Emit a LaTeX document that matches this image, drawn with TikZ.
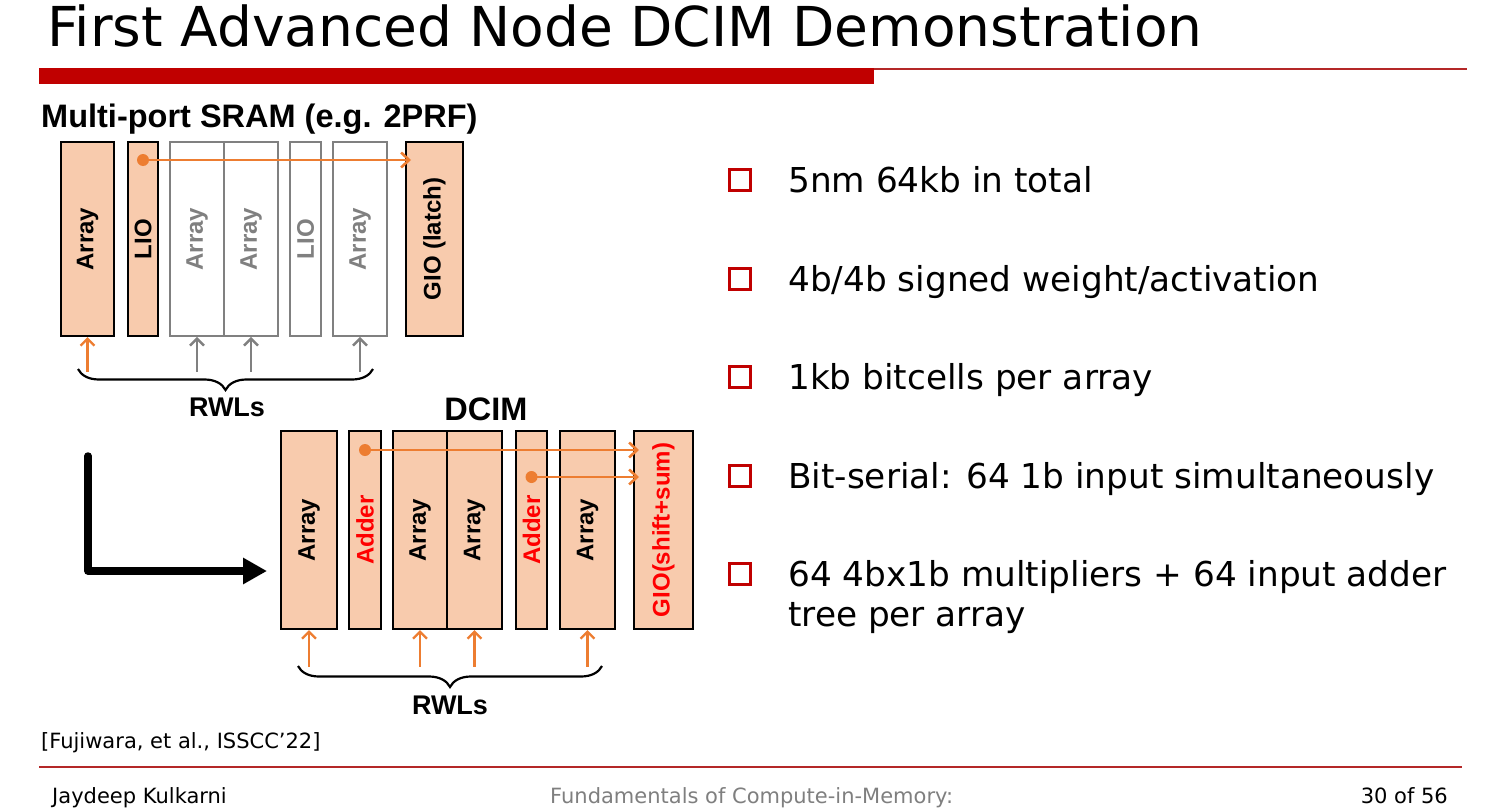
\documentclass[tikz,border=0pt]{standalone}
\usepackage{fontspec}
\setmainfont{DejaVu Sans}
\newfontfamily\arialfont{Liberation Sans}
\usetikzlibrary{arrows.meta,decorations.pathreplacing}

\definecolor{peach}{HTML}{F8CBAD}
\definecolor{wireorange}{HTML}{ED7D31}
\definecolor{slidered}{HTML}{C00000}
\definecolor{rulered}{HTML}{B42828}
\definecolor{ghostgray}{HTML}{808080}
\definecolor{footgray}{HTML}{7F7F7F}
\definecolor{addred}{HTML}{FF0000}

\newcommand{\fsz}[1]{\fontsize{#1}{#1}\selectfont}

\begin{document}
\begin{tikzpicture}[
    x=1pt, y=-1pt,
    blk/.style={draw=black, line width=2pt, fill=peach, inner sep=0pt,
        font=\arialfont\bfseries\fsz{24}},
    blkA/.style={blk, minimum height=194pt},
    blkB/.style={blk, minimum height=198pt},
    ghost/.style={blkA, draw=ghostgray, line width=1.8pt, fill=white, text=ghostgray},
    hdr/.style={font=\arialfont\bfseries\fsz{32.5}, inner sep=0pt},
    rwllabel/.style={font=\arialfont\bfseries\fsz{27}, inner sep=0pt},
    wire/.style={wireorange, line width=2.6pt, -{Straight Barb[length=8pt,width=15pt]}},
    rwl/.style={wireorange, line width=2.4pt, {Straight Barb[length=7pt,width=14pt]}-},
    brc/.style={draw=black, line width=2.2pt, decorate, decoration={brace, amplitude=21pt}},
    bsq/.style={draw=slidered, line width=3pt, minimum size=21pt, inner sep=0pt},
    btxt/.style={font=\fsz{34.3}, inner sep=0pt},
    foot/.style={font=\fsz{21}, inner sep=0pt},
]
    \useasboundingbox (0,0) rectangle (1489,811);

    % Title and rules
    \node[anchor=base west, inner sep=0pt, font=\fsz{55}] (title) at (47,46) {First Advanced Node DCIM Demonstration};
    \fill[slidered] (39,68) rectangle (874,84);
    \draw[rulered, line width=1.5pt] (874,68.75) -- (1467,68.75);
    \draw[rulered, line width=1.5pt] (39,767) -- (1462,767);

    % Multi-port SRAM
    \node[hdr, anchor=base west] (sramT) at (41,127) {Multi-port SRAM (e.g. 2PRF)};
    \node[blkA, minimum width=53pt] (arrA1) at (87.5,239) {\rotatebox{90}{Array}};
    \node[blkA, minimum width=30pt] (lioA) at (143,239) {\rotatebox{90}{LIO}};
    \node[ghost, minimum width=54pt] (arrA2) at (197,239) {\rotatebox{90}{Array}};
    \node[ghost, minimum width=54pt] (arrA3) at (251,239) {\rotatebox{90}{Array}};
    \node[ghost, minimum width=31pt] (lioB) at (305.5,239) {\rotatebox{90}{LIO}};
    \node[ghost, minimum width=54pt] (arrA4) at (360,239) {\rotatebox{90}{Array}};
    \node[blkA, minimum width=57pt] (gioA) at (434.5,239) {\rotatebox{90}{GIO (latch)}};

    \coordinate (lioOut) at ([yshift=-19pt]lioA.north);
    \coordinate (gioIn) at ([xshift=6pt,yshift=-19pt]gioA.north west);
    \draw[wire] (lioOut) -- (gioIn);
    \fill[wireorange] (lioOut) circle (6pt);

    \draw[rwl] (arrA1.south) -- ++(0,35);
    \foreach \b in {arrA2,arrA3,arrA4}
        \draw[rwl, ghostgray] (\b.south) -- ++(0,35);
    \coordinate (braceAr) at (373,369);
    \coordinate (braceAl) at (78,369);
    \draw[brc] (braceAr) -- (braceAl);
    \node[rwllabel] (rwlA) at (227,407) {RWLs};

    % DCIM
    \node[hdr, anchor=base] (dcimT) at (486,420) {DCIM};
    \node[blkB, minimum width=56pt] (arrB1) at (309,530) {\rotatebox{90}{Array}};
    \node[blkB, minimum width=32pt, text=addred] (addB1) at (365,530) {\rotatebox{90}{Adder}};
    \node[blkB, minimum width=54pt] (arrB2) at (420,530) {\rotatebox{90}{Array}};
    \node[blkB, minimum width=55pt] (arrB3) at (474.5,530) {\rotatebox{90}{Array}};
    \node[blkB, minimum width=31pt, text=addred] (addB2) at (531.5,530) {\rotatebox{90}{Adder}};
    \node[blkB, minimum width=55pt] (arrB4) at (587.5,530) {\rotatebox{90}{Array}};
    \node[blkB, minimum width=59pt, text=addred] (gioB) at (663.5,530) {\rotatebox{90}{GIO(shift+sum)}};

    \coordinate (addOut1) at ([yshift=-20pt]addB1.north);
    \coordinate (gioIn1) at ([xshift=6pt,yshift=-20pt]gioB.north west);
    \coordinate (addOut2) at ([yshift=-47pt]addB2.north);
    \coordinate (gioIn2) at ([xshift=6pt,yshift=-47pt]gioB.north west);
    \draw[wire] (addOut1) -- (gioIn1);
    \draw[wire] (addOut2) -- (gioIn2);
    \fill[wireorange] (addOut1) circle (6pt);
    \fill[wireorange] (addOut2) circle (6pt);

    \foreach \b in {arrB1,arrB2,arrB3,arrB4}
        \draw[rwl] (\b.south) -- ++(0,37);
    \coordinate (braceBr) at (602,666);
    \coordinate (braceBl) at (298,666);
    \draw[brc] (braceBr) -- (braceBl);
    \node[rwllabel] (rwlB) at (450,705) {RWLs};

    % Big turn arrow
    \coordinate (turnS) at (88,456);
    \coordinate (turnE) at (267,571);
    \draw[line width=7.5pt, line cap=round, line join=round, -{Triangle[length=24pt,width=25pt]}] (turnS) |- (turnE);

    % Bullets
    \foreach \i/\txt in {0/{5nm 64kb in total}, 1/{4b/4b signed weight/activation},
        2/{1kb bitcells per array}, 3/{Bit-serial: 64 1b input simultaneously},
        4/{64 4bx1b multipliers + 64 input adder}} {
        \node[bsq] (sq\i) at (739.5, {180+98.5*\i}) {};
        \node[btxt, anchor=base west] (bt\i) at (788, {192.5+98.5*\i}) {\txt};
    }
    \node[btxt, anchor=base west] (bt5) at (788,626) {tree per array};

    % Footer
    \node[foot, anchor=base west] (cite) at (41,748) {[Fujiwara, et al., ISSCC’22]};
    \node[foot, anchor=base west] (auth) at (52,803) {Jaydeep Kulkarni};
    \node[foot, text=footgray, anchor=base west] (course) at (550,803) {Fundamentals of Compute-in-Memory:};
    \node[foot, anchor=base east] (page) at (1448,803) {30 of 56};
\end{tikzpicture}
\end{document}
